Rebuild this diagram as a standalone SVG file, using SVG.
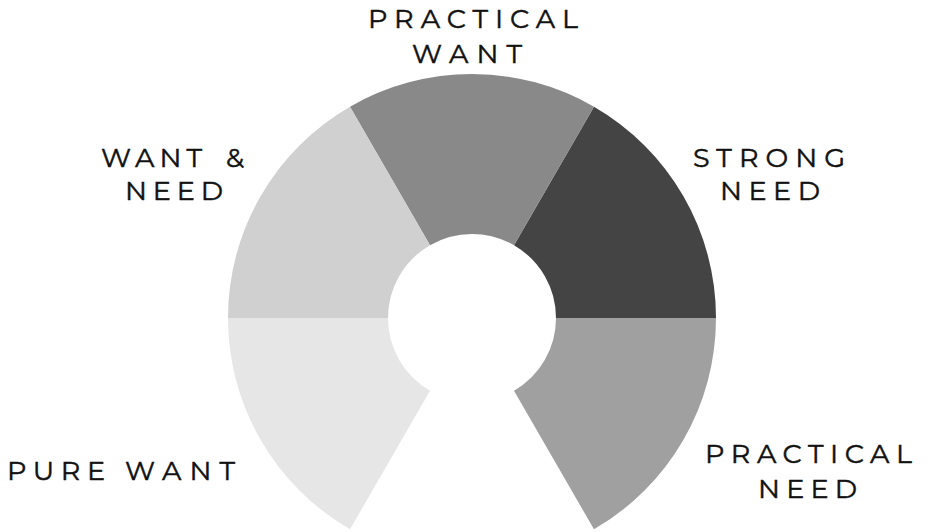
<svg xmlns="http://www.w3.org/2000/svg" width="929" height="532" viewBox="0 0 929 532">
  <style>
    .lbl { font-family: "Montserrat", "DejaVu Sans", "Liberation Sans", sans-serif; font-size: 27px; fill: #111111; stroke: #111111; stroke-width: 0.5px; }
  </style>
  <rect width="929" height="532" fill="#ffffff"/>
  <!-- ring segments: centre (472,318), outer r 244, inner r 84 -->
  <g id="strong-need">
    <path d="M716,318 A244,244 0 0 0 594,106.7 L514,245.25 A84,84 0 0 1 556,318 Z" fill="#444444"/>
    <text class="lbl" x="693" y="167" textLength="152" lengthAdjust="spacing">STRONG</text>
    <text class="lbl" x="720" y="200" textLength="100" lengthAdjust="spacing">NEED</text>
  </g>
  <g id="practical-want">
    <path d="M594,106.7 A244,244 0 0 0 350,106.7 L430,245.25 A84,84 0 0 1 514,245.25 Z" fill="#898989"/>
    <text class="lbl" x="368" y="28" textLength="210" lengthAdjust="spacing">PRACTICAL</text>
    <text class="lbl" x="412" y="63" textLength="110" lengthAdjust="spacing">WANT</text>
  </g>
  <g id="want-need">
    <path d="M350,106.7 A244,244 0 0 0 228,318 L388,318 A84,84 0 0 1 430,245.25 Z" fill="#d0d0d0"/>
    <text class="lbl" x="101" y="167" textLength="101" lengthAdjust="spacing">WANT</text>
    <text class="lbl" x="226" y="167">&amp;</text>
    <text class="lbl" x="125" y="200" textLength="98" lengthAdjust="spacing">NEED</text>
  </g>
  <g id="pure-want">
    <path d="M228,318 A244,244 0 0 0 350,529.3 L430,390.75 A84,84 0 0 1 388,318 Z" fill="#e6e6e6"/>
    <text class="lbl" x="7" y="480" textLength="98" lengthAdjust="spacing">PURE</text>
    <text class="lbl" x="125" y="480" textLength="110" lengthAdjust="spacing">WANT</text>
  </g>
  <g id="practical-need">
    <path d="M594,529.3 A244,244 0 0 0 716,318 L556,318 A84,84 0 0 1 514,390.75 Z" fill="#a0a0a0"/>
    <text class="lbl" x="705" y="463" textLength="207" lengthAdjust="spacing">PRACTICAL</text>
    <text class="lbl" x="758" y="498" textLength="99" lengthAdjust="spacing">NEED</text>
  </g>
  <g id="connectors"/>
</svg>
